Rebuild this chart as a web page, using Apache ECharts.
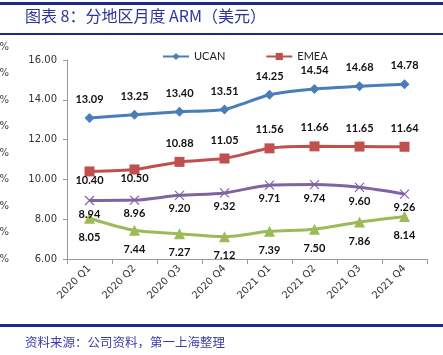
<!DOCTYPE html>
<html><head><meta charset="utf-8">
<script src="https://cdn.jsdelivr.net/npm/echarts@6/dist/echarts.min.js"></script>
<style>html,body{margin:0;padding:0;background:#fff;}#c{width:443px;height:355px;}</style>
</head><body><div id="c"></div>
<script>
var categories = ['2020 Q1','2020 Q2','2020 Q3','2020 Q4','2021 Q1','2021 Q2','2021 Q3','2021 Q4'];
var ucan = [13.09,13.25,13.40,13.51,14.25,14.54,14.68,14.78];
var emea = [10.40,10.50,10.88,11.05,11.56,11.66,11.65,11.64];
var purple = [8.94,8.96,9.20,9.32,9.71,9.74,9.60,9.26];
var green = [8.05,7.44,7.27,7.12,7.39,7.50,7.86,8.14];
var yTicks = [6,8,10,12,14,16];
var leftCut = ['%','%','%','%','%','%','0%','0%','0%'];

var chart = echarts.init(document.getElementById('c'), null, {renderer:'canvas'});
var labelBase = {show:true, fontFamily:'Lato', fontWeight:'bold', fontSize:11, color:'#111', formatter:function(p){return p.value.toFixed(2);}};
var emeaData = emea.map(function(v,i){
  return i<2 ? {value:v, label:{position:'bottom', distance:-1}} : {value:v};
});
var graphics = [
  {type:'rect', shape:{x:0,y:2,width:443,height:3}, style:{fill:'#1c2a8c'}},
  {type:'rect', shape:{x:0,y:33,width:443,height:2}, style:{fill:'#1c2a8c'}},
  {type:'rect', shape:{x:0,y:324,width:443,height:3}, style:{fill:'#1c2a8c'}},
  {type:'text', left:25, top:8, style:{text:'图表 8：分地区月度 ARM（美元）', font:'16px "Noto Sans CJK SC"', fill:'#2b3598'}},
  {type:'text', left:25, top:336, style:{text:'资料来源：公司资料，第一上海整理', font:'12.5px "Noto Sans CJK SC"', fill:'#3c3ca8'}}
];
leftCut.forEach(function(t,i){
  graphics.push({type:'text', x:9, y:47+i*26.5, style:{text:t, font:'10px "DejaVu Sans"', fill:'#444', align:'right', verticalAlign:'middle'}});
});
chart.setOption({
  animation:false,
  backgroundColor:'#fff',
  graphic: graphics,
  legend:{data:['UCAN','EMEA'], top:46, left:157, itemGap:40, itemWidth:26, itemHeight:9,
    textStyle:{fontFamily:'Lato', fontSize:11, color:'#222'}},
  grid:{left:67, right:16, top:60, bottom:96},
  xAxis:{type:'category', data:categories, boundaryGap:true,
    axisLine:{lineStyle:{color:'#999'}},
    axisTick:{show:true, interval:0, alignWithLabel:false, length:5, lineStyle:{color:'#999'}},
    axisLabel:{rotate:45, interval:0, fontFamily:'DejaVu Sans', fontSize:10, color:'#333', margin:8}},
  yAxis:{type:'value', min:yTicks[0], max:yTicks[yTicks.length-1], interval:2,
    axisLine:{show:true, lineStyle:{color:'#999'}},
    axisTick:{show:true, length:4, lineStyle:{color:'#999'}},
    splitLine:{show:false},
    axisLabel:{formatter:function(v){return v.toFixed(2);}, fontFamily:'DejaVu Sans', fontSize:10, color:'#333', margin:10}},
  series:[
    {name:'UCAN', type:'line', data:ucan, smooth:0.2, symbol:'diamond', symbolSize:10,
      lineStyle:{color:'#4a7ebb', width:3}, itemStyle:{color:'#4a7ebb'},
      label:Object.assign({}, labelBase, {position:'top', distance:8})},
    {name:'EMEA', type:'line', data:emeaData, smooth:0.2, symbol:'rect', symbolSize:10,
      lineStyle:{color:'#c0504d', width:3}, itemStyle:{color:'#c0504d'},
      label:Object.assign({}, labelBase, {position:'top', distance:8})},
    {name:'Other1', type:'line', data:purple, smooth:0.3, symbol:'path://M0,0L10,10M10,0L0,10', symbolSize:9,
      lineStyle:{color:'#8064a2', width:3}, itemStyle:{color:'#8064a2', borderColor:'#8064a2', borderWidth:1.2},
      label:Object.assign({}, labelBase, {position:'bottom', distance:3})},
    {name:'Other2', type:'line', data:green, smooth:0.3, symbol:'triangle', symbolSize:11,
      lineStyle:{color:'#9bbb59', width:3}, itemStyle:{color:'#9bbb59'},
      label:Object.assign({}, labelBase, {position:'bottom', distance:8})}
  ]
});
</script></body></html>
